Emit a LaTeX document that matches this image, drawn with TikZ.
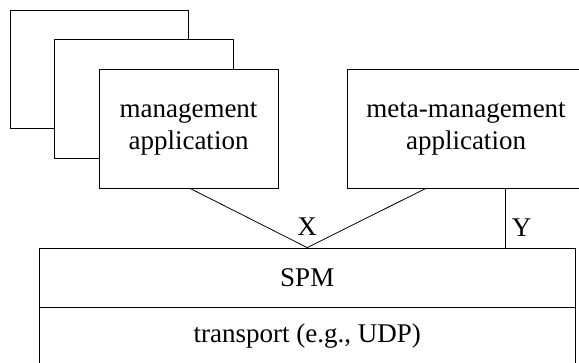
\documentclass[tikz,border=0pt]{standalone}
\usepackage{fontspec}
\setmainfont{Liberation Serif}
\usetikzlibrary{positioning,calc}

\tikzset{
  appbox/.style={draw, fill=white, line width=0.8pt, minimum width=179pt, minimum height=119pt, inner sep=0pt, align=center},
  layerbox/.style={draw, line width=0.8pt, minimum width=536.5pt, minimum height=59pt, inner sep=0pt},
  lbl/.style={inner sep=0pt}
}

\begin{document}
\begin{tikzpicture}[x=1pt,y=-1pt,font=\fontsize{27}{32}\selectfont]
		\useasboundingbox (0,0) rectangle (579,362);
		\clip (0,0) rectangle (579,362);

		% stacked management applications
		\node[appbox, minimum width=178pt, minimum height=118pt] (back) at (99,69) {};
		\node[appbox] (mid) at (143.5,98.5) {};
		\node[appbox] (mgmt) at (188.5,128.5) {management\\application};
		\node[appbox, minimum width=238pt] (meta) at (466,128.5) {meta-management\\application};

		% protocol layers
		\node[layerbox] (spm) at (307.25,277.5) {SPM};
		\node[layerbox] (transport) at (307.25,336.5) {transport (e.g., UDP)};

		\coordinate (xend) at ($(meta.south west)!0.332!(meta.south east)$);
		\coordinate (yend) at ($(meta.south west)!0.667!(meta.south east)$);

		\draw[line width=0.8pt] ($(mgmt.south)+(1.5,0)$) -- (spm.north) -- (xend);
		\draw[line width=0.8pt] (yend) -- (yend |- spm.north);

		\node[lbl] (xlab) at (307,227) {X};
		\node[lbl] (ylab) at (521.7,228) {Y};
	\end{tikzpicture}
\end{document}
